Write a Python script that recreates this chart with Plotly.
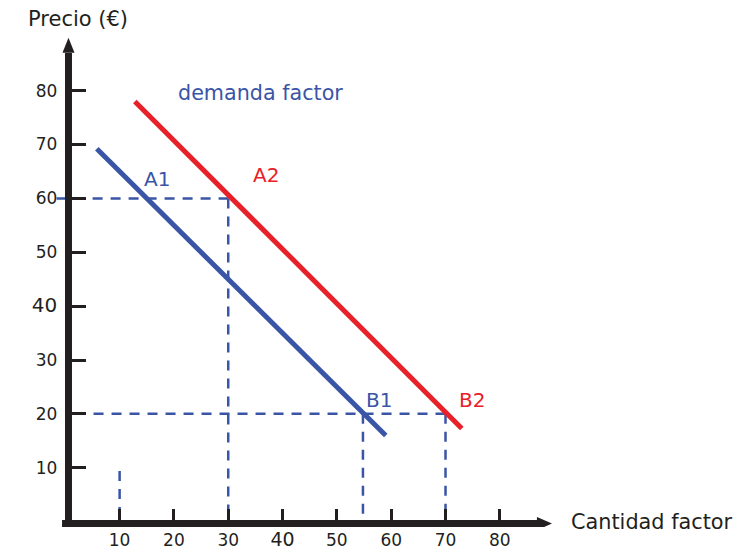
import plotly.graph_objects as go

# ---------------- data ----------------
# demand curve 1 (blue) and shifted demand curve 2 (red)
demand1_x = [5.8, 59.0]
demand1_y = [69.2, 16.0]
demand2_x = [12.8, 73.0]
demand2_y = [78.0, 17.3]

# dashed guide lines
guide_h_y = [60, 20]
guide_h_x0 = [-1.6, 5.2]
guide_h_x1 = [30, 70]
guide_v_x = [30, 54.8, 70, 10]
guide_v_y0 = [0, 0, 0, 0]
guide_v_y1 = [60, 20, 20, 9.4]

# point labels
point_names = ["A1", "A2", "B1", "B2"]
point_x = [16.8, 37.0, 57.8, 74.8]
point_y = [63.6, 64.3, 22.6, 22.6]
point_colors = ["#3a55a6", "#e8202a", "#3a55a6", "#e8202a"]

tick_vals = [10, 20, 30, 40, 50, 60, 70, 80]
tick_text_x = ["10", "20", "30", '<span style="font-size:19px">40</span>', "50", "60", "70", "80"]
tick_text_y = ["10", "20", "30", '<span style="font-size:20px">40</span>', "50", "60", "70", "80"]

x_title = "Cantidad factor"
y_title = "Precio (€)"
curve_title = "demanda factor"

# ---------------- styling ----------------
BLUE = "#3a55a6"
RED = "#e8202a"
DARK = "#231f20"
FONT = "DejaVu Sans"

X_MIN, X_MAX = -3, 92
Y_MIN, Y_MAX = -1, 92
AXIS_X_END = 86.9
AXIS_X_TIP = 89.6
AXIS_Y_END = 87.0
AXIS_Y_TIP = 89.8

fig = go.Figure()

fig.add_trace(go.Scatter(x=demand1_x, y=demand1_y, mode="lines",
                         line=dict(color=BLUE, width=5), hoverinfo="skip"))
fig.add_trace(go.Scatter(x=demand2_x, y=demand2_y, mode="lines",
                         line=dict(color=RED, width=5), hoverinfo="skip"))

shapes = []
for y, x0, x1 in zip(guide_h_y, guide_h_x0, guide_h_x1):
    shapes.append(dict(type="line", xref="x", yref="y", x0=x0, x1=x1, y0=y, y1=y,
                       line=dict(color=BLUE, width=2.5, dash="10px,8px"), layer="below"))
for x, y0, y1 in zip(guide_v_x, guide_v_y0, guide_v_y1):
    shapes.append(dict(type="line", xref="x", yref="y", x0=x, x1=x, y0=y1, y1=y0,
                       line=dict(color=BLUE, width=2.5, dash="10px,8px"), layer="below"))

# axes lines (offset by a few pixels as in the reference)
shapes.append(dict(type="line", xref="x", yref="y", xsizemode="pixel", xanchor=0,
                   x0=3.2, x1=3.2, y0=-0.6, y1=AXIS_Y_END,
                   line=dict(color=DARK, width=7)))
shapes.append(dict(type="line", xref="x", yref="y", ysizemode="pixel", yanchor=0,
                   y0=-2, y1=-2, x0=-0.6, x1=AXIS_X_END,
                   line=dict(color=DARK, width=7)))
# arrow heads
shapes.append(dict(type="path", xref="x", yref="y", xsizemode="pixel", ysizemode="pixel",
                   xanchor=0, yanchor=AXIS_Y_TIP,
                   path="M -2.8 -15 L 9.2 -15 L 3.2 0 Z",
                   fillcolor=DARK, line=dict(color=DARK, width=0)))
shapes.append(dict(type="path", xref="x", yref="y", xsizemode="pixel", ysizemode="pixel",
                   xanchor=AXIS_X_TIP, yanchor=0,
                   path="M -15 4.5 L -15 -8.5 L 0 -2 Z",
                   fillcolor=DARK, line=dict(color=DARK, width=0)))

annotations = []
for name, x, y, c in zip(point_names, point_x, point_y, point_colors):
    annotations.append(dict(x=x, y=y, xref="x", yref="y", text=name, showarrow=False,
                            font=dict(family=FONT, size=20, color=c),
                            xanchor="center", yanchor="middle"))
annotations.append(dict(x=36.0, y=79.6, xref="x", yref="y", text=curve_title, showarrow=False,
                        font=dict(family=FONT, size=20.7, color=BLUE),
                        xanchor="center", yanchor="middle"))
# axis titles in paper coordinates (outside the axis ranges)
annotations.append(dict(x=77.5, y=19, xref="paper", yref="paper", text=y_title, showarrow=False,
                        font=dict(family=FONT, size=21, color=DARK),
                        xanchor="center", yanchor="middle"))
annotations.append(dict(x=651.5, y=522, xref="paper", yref="paper", text=x_title, showarrow=False,
                        font=dict(family=FONT, size=20.8, color=DARK),
                        xanchor="center", yanchor="middle"))

ML, MR, MT, MB = 49, 186, 26, 23
W, H = 751, 550
pw, ph = W - ML - MR, H - MT - MB
# convert pixel positions of the titles to paper fractions
for a in annotations[-2:]:
    a["x"] = (a["x"] - ML) / pw
    a["y"] = (H - MB - a["y"]) / ph

fig.update_layout(
    width=W, height=H,
    margin=dict(l=ML, r=MR, t=MT, b=MB, pad=0),
    paper_bgcolor="white", plot_bgcolor="white",
    showlegend=False,
    shapes=shapes,
    annotations=annotations,
    xaxis=dict(range=[X_MIN, X_MAX], anchor="free", position=(0 - Y_MIN) / (Y_MAX - Y_MIN),
               tickvals=tick_vals, ticktext=tick_text_x,
               ticks="inside", ticklen=13, tickwidth=3, tickcolor=DARK,
               ticklabelstandoff=6,
               showgrid=False, zeroline=False, showline=False, automargin=False,
               tickfont=dict(family=FONT, size=17, color=DARK)),
    yaxis=dict(range=[Y_MIN, Y_MAX], anchor="free", position=(0 - X_MIN) / (X_MAX - X_MIN),
               tickvals=tick_vals, ticktext=tick_text_y,
               ticks="inside", ticklen=20, tickwidth=3, tickcolor=DARK,
               ticklabelstandoff=8,
               showgrid=False, zeroline=False, showline=False, automargin=False,
               tickfont=dict(family=FONT, size=17, color=DARK)),
)

fig.write_html("out.html", post_script="document.body.style.margin='0';",
               config={"displayModeBar": False})
